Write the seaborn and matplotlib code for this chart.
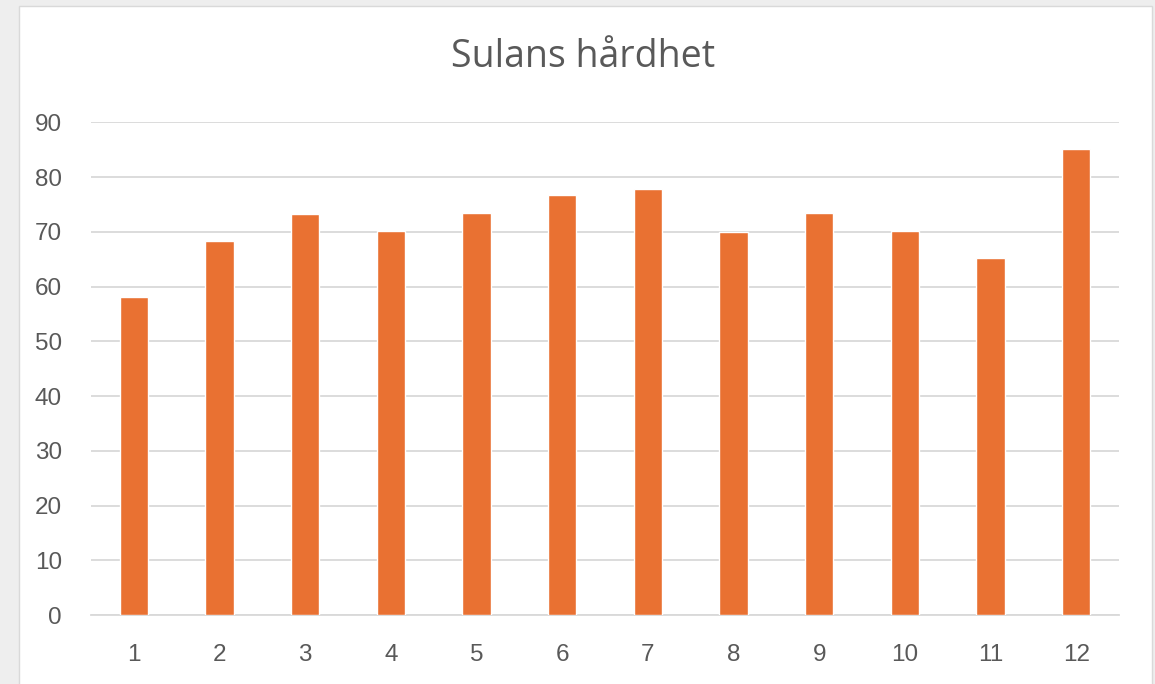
import matplotlib
matplotlib.use("Agg")
import matplotlib.pyplot as plt
import seaborn as sns
import pandas as pd
from matplotlib.patches import Rectangle

# Data
prov = ["1", "2", "3", "4", "5", "6", "7", "8", "9", "10", "11", "12"]
hardhet = [58.0, 68.4, 73.2, 70.2, 73.5, 76.8, 77.9, 69.9, 73.5, 70.2, 65.2, 85.1]
y_ticks = [0, 10, 20, 30, 40, 50, 60, 70, 80, 90]

df = pd.DataFrame({"prov": prov, "hardhet": hardhet})

sns.set_theme(style="white")
plt.rcParams['font.family'] = ['Liberation Sans', 'DejaVu Sans']

fig = plt.figure(figsize=(11.55, 6.84), dpi=100)
fig.patch.set_facecolor('#eeeeee')

# white chart panel (behind the axes)
fig.patches.append(Rectangle((19 / 1155, -0.01), (1152 - 19) / 1155, (684 - 6) / 684 + 0.01,
                             transform=fig.transFigure, facecolor='white',
                             edgecolor='#d9d9d9', linewidth=1, zorder=-1))

ax = fig.add_axes([91 / 1155, 69 / 684, (1119 - 91) / 1155, (615 - 122.3) / 684])
ax.set_facecolor('none')

sns.barplot(data=df, x="prov", y="hardhet", color='#e97132', saturation=1,
            width=0.33, ax=ax, zorder=3)

ax.set_ylim(0, 90)
ax.set_yticks(y_ticks)
ax.set_xlim(-0.5, len(prov) - 0.5)
ax.yaxis.grid(True, color='#d9d9d9', linewidth=1.3, zorder=0)
ax.set_axisbelow(True)
for s in ['top', 'right', 'left']:
    ax.spines[s].set_visible(False)
ax.spines['bottom'].set_color('#d9d9d9')
ax.spines['bottom'].set_linewidth(1.3)

ax.set_xlabel("")
ax.set_ylabel("")
ax.tick_params(axis='both', colors='#595959', labelsize=17.5, length=0)
ax.tick_params(axis='y', pad=21)
ax.tick_params(axis='x', pad=21)

fig.text(583 / 1155, 1 - 57 / 684, "Sulans hårdhet", ha='center', va='center',
         fontsize=27, color='#595959', family=['Open Sans', 'DejaVu Sans'])

fig.savefig("out.png", dpi=100, facecolor=fig.get_facecolor())
